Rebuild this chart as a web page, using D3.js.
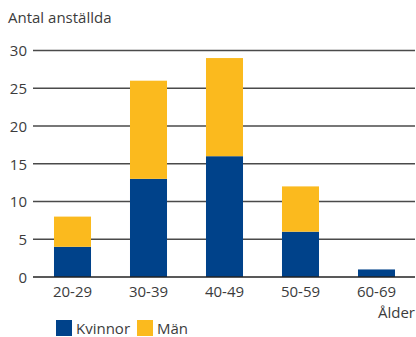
<!DOCTYPE html>
<html><head><meta charset="utf-8">
<script src="https://cdn.jsdelivr.net/npm/d3@7"></script>
<style>body{margin:0;background:#fff}svg{display:block}text{font-family:"Open Sans",sans-serif;fill:#3c3c3c}</style>
</head><body><svg id="c" width="416" height="337"></svg>
<script>
const categories = ["20-29","30-39","40-49","50-59","60-69"];
const kvinnor = [4,13,16,6,1];
const man = [4,13,13,6,0];
const yTicks = [0,5,10,15,20,25,30];
const seriesNames = ["Kvinnor","Män"];
const colors = ["#00428a","#fbba1e"];

const svg = d3.select("#c");
const x = d3.scaleBand().domain(categories).range([34.5,414.5]).paddingInner(0.513).paddingOuter(0.2565);
const y = d3.scaleLinear().domain([0,30]).range([277,50.5]);

svg.append("text").attr("x",8).attr("y",23).attr("font-size",15).text("Antal anställda");

// gridlines
svg.append("g").selectAll("line").data(yTicks.filter(d=>d>0)).join("line")
  .attr("x1",33).attr("x2",415).attr("y1",d=>y(d)).attr("y2",d=>y(d))
  .attr("stroke","#4a4a4a").attr("stroke-width",1.3);

const yAxis = d3.axisLeft(y).tickValues(yTicks).tickSize(0).tickPadding(6);
const gy = svg.append("g").attr("transform","translate(33,0)").call(yAxis);
gy.select(".domain").remove();
gy.selectAll("text").attr("font-size",15).attr("dy","0.35em").style("font-family","Open Sans").attr("fill","#3c3c3c");

const data = categories.map((c,i)=>({cat:c,Kvinnor:kvinnor[i],"Män":man[i]}));
const stack = d3.stack().keys(seriesNames)(data);
svg.append("g").selectAll("g").data(stack).join("g").attr("fill",(d,i)=>colors[i])
  .selectAll("rect").data(d=>d).join("rect")
  .attr("x",d=>x(d.data.cat)).attr("width",x.bandwidth())
  .attr("y",d=>y(d[1])).attr("height",d=>y(d[0])-y(d[1]));

// zero line
svg.append("line").attr("x1",33).attr("x2",415).attr("y1",y(0)).attr("y2",y(0))
  .attr("stroke","#222").attr("stroke-width",1.6);

const xAxis = d3.axisBottom(x).tickSize(0).tickPadding(9);
const gx = svg.append("g").attr("transform",`translate(0,${y(0)})`).call(xAxis);
gx.select(".domain").remove();
gx.selectAll("text").attr("font-size",15).style("font-family","Open Sans").attr("fill","#3c3c3c");

svg.append("text").attr("x",415).attr("y",318).attr("text-anchor","end").attr("font-size",15).text("Ålder");

// legend
const leg = svg.append("g");
const lx = [56,137];
seriesNames.forEach((s,i)=>{
  leg.append("rect").attr("x",lx[i]).attr("y",320).attr("width",16).attr("height",16).attr("fill",colors[i]);
  leg.append("text").attr("x",lx[i]+20).attr("y",334).attr("font-size",15).text(s);
});
</script></body></html>
